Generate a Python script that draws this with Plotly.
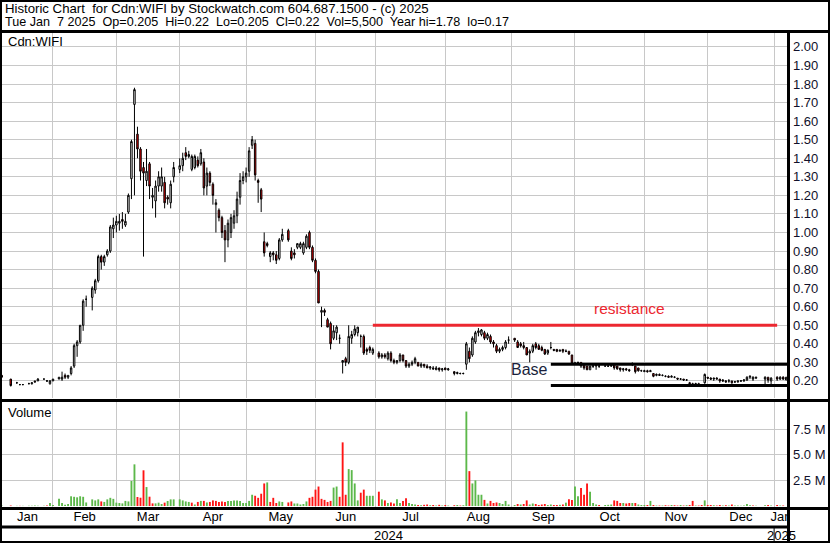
import numpy as np
import pandas as pd
import plotly.graph_objects as go

W, H = 830, 543
ML, MR = 2, 42
START = "2024-01-08"
dates = pd.bdate_range(START, "2025-01-07")   # weekday slots, one per trading day

# ---------------- data (one entry per weekday, None = no trade / holiday) ----------------
opens = [
    None, .23, None, None, .21,  None, .19, .18, .18, None,  .185, .185, .20, .20, None,
    .21, .20, .185, .20, None,  .21, .21, .23, .22, .24,  .28, .39, .41, .50, .64,
    None, .65, .69, .74, .87,  .84, .88, .90, 1.02, 1.04,  1.05, 1.07, 1.04, 1.11, 1.29,
    1.69, 1.53, 1.45, 1.35, 1.28,  1.37, 1.19, 1.17, 1.25, 1.25,  1.27, 1.19, 1.16, 1.30, None,
    1.34, 1.36, 1.43, 1.41, 1.34,  1.35, 1.39, 1.37, 1.38, 1.25,  1.32, 1.26, 1.15, 1.12, 1.08,
    1.01, .96, 1.00, 1.05, 1.09,  1.19, 1.28, 1.30, 1.33, 1.47,  1.48, 1.28, 1.23, .95, .94,
    .87, .89, .88, .86, .96,  None, 1.01, .90, .89, .92,  .92, .89, .92, 1.00, .92,
    .85, .79, .57, .58, .53,  .51, .43, .46, .43, .30,  .32, .30, .43, .45, .46,
    .44, .44, .37, .38, .35,  None, .35, .33, .34, .32,  .35, .31, .30, .31, .34,
    .31, .28, .29, .30, .30,  .28, .29, .28, .27, .27,  .26, .27, .26, .27, .26,
    None, .25, .24, .24, .24,  .29, .36, .34, .41, .46,  .45, .46, .43, .44, .41,
    .39, .36, .37, .38, .42,  None, .43, .41, .40, .39,  .38, .35, .36, .40, .39,
    .38, .37, .35, .38, .37,  .37, .36, .37, .36, .36,  .34, .29, .30, .30, .29,
    .28, .26, .28, .28, .28,  None, .28, .28, .28, .29,  .28, .27, .26, .265, .26,
    .29, .28, .27, .255, .25,  .255, .25, .24, .23, .235,  .23, .225, .225, .22, .22,
    .215, .21, .21, .205, .19,  .185, .18, .185, .18, .19,  .22, .215, .21, .215, .21,
    .205, .20, .20, .20, .195,  .195, .20, .20, .205, .22,  .21, .215, None, None, .21,
    .22, .20, None, .22, .21,  .22, .205,
]
highs = [
    None, .23, None, None, .21,  None, .195, .18, .18, None,  .19, .19, .20, .215, None,
    .21, .205, .205, .21, None,  .22, .25, .24, .23, .28,  .40, .42, .50, .64, .66,
    None, .71, .75, .88, .88,  .88, .91, 1.04, 1.08, 1.09,  1.10, 1.11, 1.10, 1.21, 1.50,
    1.78, 1.57, 1.46, 1.38, 1.45,  1.38, 1.24, 1.28, 1.33, 1.35,  1.30, 1.20, 1.28, 1.38, None,
    1.40, 1.43, 1.46, 1.44, 1.42,  1.42, 1.41, 1.45, 1.40, 1.35,  1.33, 1.27, 1.18, 1.13, 1.09,
    1.04, 1.07, 1.10, 1.12, 1.22,  1.32, 1.33, 1.35, 1.46, 1.52,  1.50, 1.29, 1.24, 1.00, .95,
    .90, .90, .90, .97, 1.02,  None, 1.02, .92, .91, .94,  .95, .95, .99, 1.01, .93,
    .86, .80, .60, .59, .54,  .52, .50, .50, .45, .31,  .33, .50, .47, .50, .49,
    .45, .45, .38, .39, .38,  None, .36, .35, .35, .36,  .36, .32, .31, .35, .34,
    .31, .30, .31, .33, .30,  .30, .29, .29, .28, .28,  .28, .27, .27, .27, .27,
    None, .25, .25, .245, .245,  .41, .38, .44, .47, .485,  .48, .47, .46, .45, .42,
    .40, .38, .39, .42, .44,  None, .43, .42, .41, .41,  .38, .37, .40, .41, .40,
    .39, .37, .37, .41, .37,  .37, .37, .37, .37, .36,  .34, .30, .30, .30, .29,
    .28, .28, .29, .29, .29,  None, .285, .285, .29, .29,  .28, .27, .27, .27, .265,
    .30, .28, .27, .26, .26,  .26, .26, .24, .24, .24,  .235, .23, .23, .23, .225,
    .215, .215, .21, .21, .195,  .19, .19, .19, .18, .24,  .22, .22, .215, .22, .21,
    .21, .205, .21, .20, .20,  .20, .205, .21, .225, .23,  .225, .22, None, None, .225,
    .22, .22, None, .225, .225,  .225, .22,
]
lows = [
    None, .22, None, None, .17,  None, .185, .18, .18, None,  .185, .18, .19, .20, None,
    .21, .195, .18, .20, None,  .21, .20, .21, .21, .23,  .27, .33, .40, .47, .60,
    None, .58, .67, .73, .80,  .82, .87, .89, .97, 1.00,  1.01, 1.02, 1.03, 1.10, 1.18,
    1.20, 1.40, 1.28, .87, 1.25,  1.18, 1.13, 1.08, 1.22, 1.22,  1.13, 1.15, 1.13, 1.27, None,
    1.32, 1.33, 1.39, 1.40, 1.33,  1.34, 1.35, 1.36, 1.20, 1.20,  1.25, 1.15, 1.00, 1.06, .97,
    .84, .92, .97, 1.02, 1.05,  1.15, 1.26, 1.27, 1.30, 1.45,  1.28, 1.16, 1.11, .87, .92,
    .84, .85, .83, .85, .95,  None, .95, .85, .86, .91,  .91, .88, .91, .91, .84,
    .78, .62, .49, .55, .49,  .37, .42, .42, .40, .24,  .28, .29, .40, .44, .44,
    .38, .34, .34, .35, .34,  None, .32, .32, .32, .31,  .30, .29, .29, .30, .30,
    .27, .27, .28, .29, .28,  .27, .27, .27, .26, .26,  .26, .25, .25, .26, .255,
    None, .23, .235, .235, .235,  .26, .30, .33, .40, .44,  .44, .42, .42, .40, .38,
    .35, .35, .36, .37, .40,  None, .41, .38, .38, .37,  .34, .30, .35, .37, .37,
    .36, .34, .34, .37, .36,  .355, .36, .35, .355, .34,  .29, .29, .29, .27, .26,
    .26, .26, .27, .26, .27,  None, .28, .275, .275, .26,  .26, .25, .25, .255, .25,
    .28, .24, .25, .25, .25,  .245, .25, .22, .225, .23,  .225, .22, .22, .22, .215,
    .205, .205, .20, .20, .18,  .18, .175, .18, .17, .185,  .21, .205, .20, .21, .19,
    .195, .19, .19, .185, .19,  .19, .195, .195, .20, .21,  .20, .21, None, None, .18,
    .19, .18, None, .20, .205,  .205, .205,
]
closes = [
    None, .22, None, None, .175,  None, .19, .18, .18, None,  .185, .19, .195, .21, None,
    .21, .20, .20, .21, None,  .22, .22, .22, .23, .27,  .39, .41, .50, .63, .64,
    None, .70, .74, .87, .84,  .87, .90, 1.03, 1.04, 1.06,  1.06, 1.06, 1.06, 1.20, 1.49,
    1.77, 1.45, 1.33, 1.32, 1.33,  1.25, 1.20, 1.25, 1.30, 1.30,  1.16, 1.18, 1.26, 1.35, None,
    1.36, 1.40, 1.41, 1.42, 1.41,  1.41, 1.36, 1.43, 1.24, 1.32,  1.27, 1.20, 1.16, 1.08, 1.00,
    .96, 1.05, 1.08, 1.09, 1.18,  1.28, 1.30, 1.32, 1.44, 1.50,  1.31, 1.27, 1.18, .89, .93,
    .89, .88, .85, .96, .99,  None, .96, .86, .88, .94,  .94, .94, .98, .92, .85,
    .79, .62, .58, .57, .49,  .40, .47, .49, .43, .31,  .30, .44, .45, .48, .49,
    .44, .35, .36, .365, .37,  None, .33, .34, .33, .35,  .31, .30, .31, .34, .31,
    .28, .29, .30, .32, .28,  .29, .28, .27, .275, .265,  .27, .26, .265, .26, .265,
    None, .24, .245, .24, .24,  .40, .32, .43, .46, .47,  .475, .43, .45, .41, .40,
    .36, .37, .38, .41, .42,  None, .42, .38, .39, .38,  .34, .36, .39, .38, .37,
    .365, .345, .365, .38, .365,  .36, .365, .36, .36, .345,  .295, .30, .30, .28, .27,
    .26, .28, .28, .285, .28,  None, .28, .28, .285, .27,  .265, .26, .265, .26, .255,
    .29, .25, .255, .255, .255,  .25, .255, .225, .235, .23,  .23, .225, .22, .225, .22,
    .21, .21, .205, .205, .185,  .18, .185, .18, .175, .235,  .215, .21, .215, .21, .20,
    .20, .195, .20, .19, .195,  .20, .20, .205, .22, .225,  .22, .22, None, None, .22,
    .205, .215, None, .21, .22,  .21, .22,
]
volumes_m = [
    0, .05, 0, 0, .05,  0, .02, .02, .02, 0,  .03, .03, .05, .03, 0,
    .02, .05, .30, .10, 0,  .70, .30, .12, .20, .95,  .90, .85, .95, .90, .35,
    0, .65, .55, .65, .45,  .40, .65, .80, .70, .33,  .30, .26, .50, .45, 2.44,
    4.06, .88, .81, 3.48, 1.85,  .91, .26, .26, .33, .20,  .33, .49, .65, .65, 0,
    .65, .55, .45, .40, .33,  .15, .40, .50, .50, .35,  .40, .55, .50, .40, .45,
    .40, .50, .48, .55, .55,  .50, .30, .30, .50, 1.10,  1.00, .80, 1.20, 2.20, 2.30,
    .40, .80, .30, .45, .40,  0, .35, .45, .25, .25,  .15, .20, .45, .80, .90,
    1.60, 1.90, .70, .60, .40,  .50, 1.80, 1.90, .90, 6.20,  1.10, 3.60, 3.50, 2.20, .55,
    1.30, 1.60, 1.00, 1.00, 1.00,  0, 1.40, .65, .55, .30,  .35, .25, .65, .30, .50,
    .75, .30, .20, .15, .10,  .08, .12, .15, .08, .10,  .05, .12, .05, .10, .05,
    0, .08, .10, .05, .08,  9.20, 3.40, 2.20, 2.50, 1.10,  1.10, .60, .25, .50, .30,
    .35, .30, .20, .50, .15,  0, .10, .20, .15, .20,  .55, .15, .25, .20, .10,
    .15, .20, .10, .15, .10,  .10, .12, .15, .33, .65,  .60, 1.90, .95, 1.75, 1.10,
    2.20, 1.40, .30, .15, .10,  0, .10, .12, .15, .55,  .50, .30, .30, .25, .30,
    .30, .30, .15, .10, .10,  .10, .50, .10, .05, .05,  .05, .08, .05, .10, .08,
    .05, .10, .05, .08, .10,  .50, .05, .05, .10, .55,  .10, .10, .08, .05, .10,
    .05, .08, .05, .15, .05,  .05, .03, .05, .20, .08,  .05, .03, 0, 0, .08,
    .10, .05, 0, .10, .05,  .05, .0055,
]
month_names = ["Jan", "Feb", "Mar", "Apr", "May", "Jun", "Jul", "Aug", "Sep", "Oct", "Nov", "Dec", "Jan"]
price_ticks = [round(0.2 + 0.1 * k, 2) for k in range(19)]
vol_ticks = [2.5, 5.0, 7.5]
vol_tick_text = ["2.5 M", "5.0 M", "7.5 M"]
resistance_level = 0.50
resistance_span = ("2024-06-28", "2025-01-02")
base_levels = [0.29, 0.175]
base_span = ("2024-09-19", "2025-01-10")

header1 = "Historic Chart\u00a0 for Cdn:WIFI by Stockwatch.com 604.687.1500 - (c) 2025"
header2 = ("Tue Jan\u00a0 7 2025\u00a0 Op=0.205\u00a0 Hi=0.22\u00a0 Lo=0.205\u00a0 Cl=0.22\u00a0 "
           "Vol=5,500\u00a0 Year hi=1.78\u00a0 lo=0.17")

# ---------------- helpers ----------------
FONT = "Liberation Sans, Arial, sans-serif"
GRID = "#c8c8c8"
GREEN = "#5cb84a"
RED = "#ff1414"
LINE_RED = "#ec2830"

def di(d):
    return int(np.busday_count(START, d))

N = len(dates)
idx = list(range(N))
x_range = [1.1, 261.6]

cx, co, chh, cll, ccl = [], [], [], [], []
for i in idx:
    if opens[i] is not None:
        cx.append(i); co.append(opens[i]); chh.append(highs[i]); cll.append(lows[i]); ccl.append(closes[i])

vcol = []
prev = None
for i in idx:
    c = closes[i]
    if c is None:
        vcol.append(GREEN)
        continue
    vcol.append(GREEN if (prev is None or c >= prev) else RED)
    prev = c

# month boundaries (first weekday of each month)
periods = pd.period_range("2024-01", "2025-01", freq="M")
mstarts = []
for p in periods:
    m = (dates.year == p.year) & (dates.month == p.month)
    mstarts.append(int(np.argmax(m)))
mcenters = []
for k, s in enumerate(mstarts):
    e = mstarts[k + 1] if k + 1 < len(mstarts) else x_range[1]
    a = max(s, x_range[0]); b = min(e, x_range[1])
    mcenters.append((a + b) / 2)
jan25 = mstarts[-1]

PW = W - ML - MR
def px(x): return (x - ML) / PW        # pixel -> paper x (paper = plot area)
def py(y): return 1 - y / H            # pixel -> paper y (no vertical margins)

dom_price = [py(398), py(33)]
dom_vol = [py(508), py(402)]
dom_month = [py(527), py(509)]

fig = go.Figure()
fig.add_trace(go.Candlestick(
    x=cx, open=co, high=chh, low=cll, close=ccl,
    increasing=dict(line=dict(color="black", width=1), fillcolor="white"),
    decreasing=dict(line=dict(color="black", width=1), fillcolor="#ff0000"),
    whiskerwidth=0, xaxis="x", yaxis="y", showlegend=False, hoverinfo="skip"))
fig.add_trace(go.Bar(
    x=idx, y=volumes_m, marker=dict(color=vcol, line=dict(width=0)), width=0.62,
    xaxis="x2", yaxis="y2", showlegend=False, hoverinfo="skip"))
fig.add_trace(go.Scatter(
    x=mcenters, y=[0.5] * len(mcenters), mode="text", text=month_names,
    textfont=dict(family=FONT, size=13, color="black"), cliponaxis=True,
    xaxis="x3", yaxis="y3", showlegend=False, hoverinfo="skip"))

xcommon = dict(range=x_range, tickvals=mstarts, showticklabels=False, showgrid=True,
               gridcolor=GRID, gridwidth=1, zeroline=False, showline=False, ticks="", fixedrange=True)
fig.update_layout(
    width=W, height=H, margin=dict(l=ML, r=MR, t=0, b=0),
    paper_bgcolor="white", plot_bgcolor="white", showlegend=False,
    xaxis=dict(**xcommon, anchor="y", rangeslider=dict(visible=False)),
    xaxis2=dict(**xcommon, anchor="y2", matches="x"),
    xaxis3=dict(range=x_range, showticklabels=False, showgrid=False, zeroline=False,
                showline=False, ticks="", anchor="y3", matches="x"),
    yaxis=dict(domain=dom_price, range=[0.108, 2.075], side="right", anchor="x",
               tickvals=price_ticks, ticktext=[f"{v:.2f}" for v in price_ticks],
               showgrid=True, gridcolor=GRID, gridwidth=1, zeroline=False, ticks="",
               tickfont=dict(family=FONT, size=13, color="#10102a"), ticklabelstandoff=4),
    yaxis2=dict(domain=dom_vol, range=[-0.19, 10.13], side="right", anchor="x2",
                tickvals=vol_ticks, ticktext=vol_tick_text,
                showgrid=True, gridcolor=GRID, gridwidth=1, zeroline=False, ticks="",
                tickfont=dict(family=FONT, size=13, color="#10102a"), ticklabelstandoff=4),
    yaxis3=dict(domain=dom_month, range=[0, 1], showticklabels=False, showgrid=False,
                zeroline=False, ticks="", anchor="x3"),
)

shapes = []
# data-referenced drawing lines
shapes.append(dict(type="line", xref="x", yref="y", x0=di(resistance_span[0]), x1=di(resistance_span[1]),
                   y0=resistance_level, y1=resistance_level, line=dict(color=LINE_RED, width=3), layer="above"))
for lv in base_levels:
    shapes.append(dict(type="line", xref="x", yref="y", x0=di(base_span[0]), x1=di(base_span[1]),
                       y0=lv, y1=lv, line=dict(color="black", width=3), layer="above"))
# frame
blk = dict(color="black", width=3)
shapes += [
    dict(type="rect", xref="paper", yref="paper", x0=px(0), x1=px(W), y0=0, y1=1, line=dict(color="black", width=4)),
    dict(type="line", xref="paper", yref="paper", x0=px(0), x1=px(W), y0=py(31.5), y1=py(31.5), line=blk),
    dict(type="line", xref="paper", yref="paper", x0=px(788.5), x1=px(788.5), y0=0, y1=py(31.5), line=blk),
    dict(type="line", xref="paper", yref="paper", x0=px(0), x1=px(W), y0=py(400.5), y1=py(400.5), line=blk),
    dict(type="line", xref="paper", yref="paper", x0=px(0), x1=px(W), y0=py(508.5), y1=py(508.5), line=blk),
    dict(type="line", xref="paper", yref="paper", x0=px(0), x1=px(788.5), y0=py(527), y1=py(527), line=blk),
    dict(type="line", xref="x", yref="paper", x0=jan25, x1=jan25, y0=0, y1=py(527), line=dict(color="black", width=1)),
]
fig.update_layout(shapes=shapes)

ann = []
def note(text, x, y, xref="paper", yref="paper", size=13, color="black", xanchor="left"):
    ann.append(dict(text=text, x=x, y=y, xref=xref, yref=yref, showarrow=False, xanchor=xanchor,
                    yanchor="middle", font=dict(family=FONT, size=size, color=color)))
note(header1, px(3), py(8.5), size=13.2)
note(header2, px(3), py(22.5), size=12.6)
note("Cdn:WIFI", px(6), py(41.5))
note("Volume", px(6), py(413))
note("resistance", di("2024-10-25"), 0.59, xref="x", yref="y", size=15.5, color=LINE_RED, xanchor="center")
note("Base", di("2024-09-10"), 0.26, xref="x", yref="y", size=16, color="#1a1f3c", xanchor="center")
note("2024", (x_range[0] + jan25) / 2, py(535), xref="x", xanchor="center")
note("2025", (jan25 + x_range[1]) / 2, py(535), xref="x", xanchor="center")
fig.update_layout(annotations=ann)

fig.write_html("out.html", config={"displayModeBar": False, "staticPlot": True},
               post_script="document.body.style.margin='0';document.body.style.overflow='hidden';")
